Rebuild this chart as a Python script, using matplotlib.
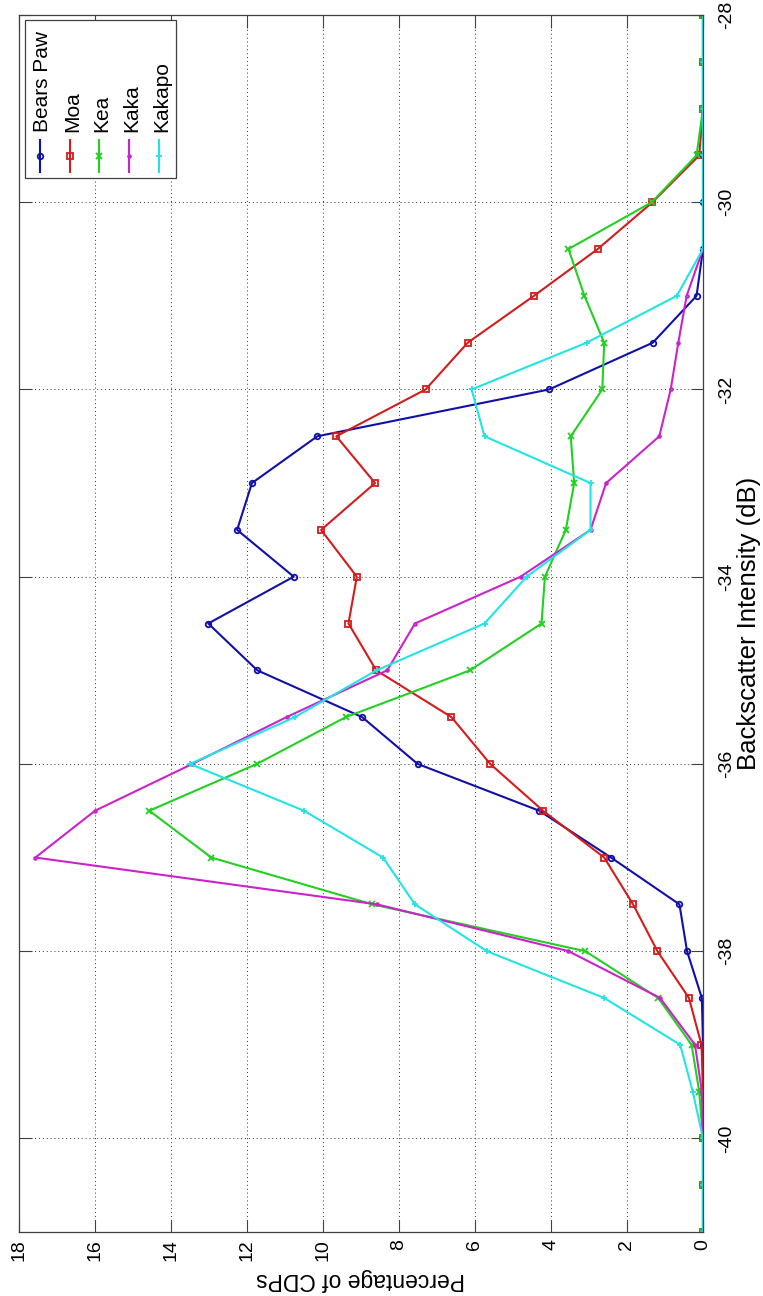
import matplotlib
matplotlib.use('Agg')
import matplotlib.pyplot as plt
from matplotlib.patches import Rectangle
from matplotlib.lines import Line2D
import numpy as np

plt.rcParams['font.family'] = ['Liberation Sans', 'DejaVu Sans']
plt.rcParams['axes.unicode_minus'] = False

# Backscatter bins (dB) and percentage of CDPs per site
db = np.arange(-41, -27.5, 0.5)

bears_paw = [0, 0, 0, 0, 0, 0.03, 0.42, 0.62, 2.42, 4.31, 7.51, 8.97, 11.73, 13.02,
             10.77, 12.26, 11.87, 10.15, 4.05, 1.32, 0.17, 0, 0, 0, 0, 0, 0]
moa = [0, 0, 0, 0, 0.04, 0.37, 1.2, 1.84, 2.6, 4.21, 5.6, 6.62, 8.6, 9.33,
       9.11, 10.05, 8.63, 9.65, 7.3, 6.19, 4.45, 2.77, 1.33, 0.1, 0, 0, 0]
kea = [0, 0, 0, 0.1, 0.3, 1.18, 3.1, 8.7, 12.94, 14.57, 11.74, 9.4, 6.13, 4.25,
       4.16, 3.61, 3.39, 3.48, 2.65, 2.6, 3.12, 3.54, 1.35, 0.17, 0, 0, 0]
kaka = [0, 0, 0, 0.03, 0.21, 1.13, 3.54, 8.58, 17.57, 16.0, 13.44, 10.96, 8.31, 7.58,
        4.8, 2.96, 2.55, 1.15, 0.85, 0.65, 0.43, 0, 0, 0, 0, 0, 0]
kakapo = [0, 0, 0, 0.27, 0.6, 2.6, 5.69, 7.58, 8.42, 10.5, 13.5, 10.74, 8.59, 5.75,
          4.64, 2.96, 2.96, 5.75, 6.09, 3.06, 0.69, 0, 0, 0, 0, 0, 0]

names = ['Bears Paw', 'Moa', 'Kea', 'Kaka', 'Kakapo']
series = [bears_paw, moa, kea, kaka, kakapo]
colors = ['#1010a8', '#d41c1c', '#22d022', '#cc22cc', '#22e4e4']
markers = ['o', 's', 'x', '.', '+']

fig = plt.figure(figsize=(7.63, 12.96), dpi=100)
ax = fig.add_axes([19/763, 1 - 1232/1296, 684/763, 1217/1296])

# plot is laid out sideways: percentage runs right-to-left, dB bottom-to-top
for vals, c, m in zip(series, colors, markers):
    ax.plot(vals, db, color=c, lw=1.5, marker=m, ms=4, mfc='none', mew=1.3)

ax.set_xlim(18, 0)
ax.set_ylim(-41, -28)
ax.set_xticks(np.arange(0, 19, 2))
ax.set_yticks(np.arange(-40, -27, 2))
ax.grid(True, color='#333333', linestyle=(0, (1, 3)), linewidth=0.7)

ax.tick_params(direction='in', length=9, width=0.8, color='#404040',
               top=True, bottom=True, left=True, right=True,
               labelleft=False, labelright=True, labelsize=14)
ax.tick_params(axis='x', labelrotation=90, pad=5)
ax.tick_params(axis='y', labelrotation=90, pad=11)
for lab in ax.get_yticklabels():
    lab.set_va('center')
for sp in ax.spines.values():
    sp.set_color('#404040')
    sp.set_linewidth(0.9)

ax.set_xlabel('Percentage of CDPs', fontsize=16.5, rotation=180, labelpad=5)
ax.yaxis.set_label_position('right')
ylab = ax.set_ylabel('Backscatter Intensity (dB)', fontsize=18.5, rotation=90)
ylab.set_rotation_mode('anchor')
ylab.set_ha('center')
ylab.set_va('baseline')
ax.yaxis.set_label_coords(1.078, 0.5)

# legend box drawn by hand so its entries can be turned with the plot
ax.add_patch(Rectangle((0.0088, 0.8661), 0.2207, 0.1298, transform=ax.transAxes,
                       facecolor='white', edgecolor='#404040', lw=0.9, zorder=5))
ent_x = [0.0307, 0.0746, 0.117, 0.1608, 0.2047]
for x, name, c, m in zip(ent_x, names, colors, markers):
    ax.add_line(Line2D([x, x], [0.871, 0.8973], transform=ax.transAxes,
                       color=c, lw=1.5, zorder=6))
    ax.add_line(Line2D([x], [0.8845], transform=ax.transAxes, color=c,
                       marker=m, ms=4, mfc='none', mew=1.3, zorder=6))
    ax.text(x + 0.004, 0.904, name, transform=ax.transAxes, rotation=90,
            ha='center', va='bottom', fontsize=15, zorder=7)

fig.savefig('out.png', dpi=100)
